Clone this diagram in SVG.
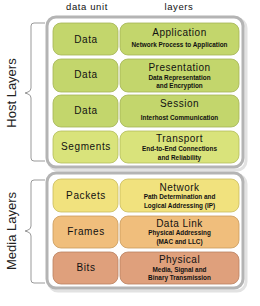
<svg xmlns="http://www.w3.org/2000/svg" width="260" height="306" viewBox="0 0 260 306">
<style>
text{font-family:"Liberation Sans",Arial,sans-serif;text-anchor:middle;fill:#111}
.hdr{font-size:9.5px;letter-spacing:0.6px}
.side{font-size:13px;fill:#222}
.unit{font-size:10px;letter-spacing:0.6px}
.ttl{font-size:10px;letter-spacing:0.5px}
.sub{font-size:6.4px;font-weight:bold}
.frame{fill:#fff;stroke:#b4b4b4;stroke-width:3}
.shadow{fill:none;stroke:#e2e2e2;stroke-width:3}
.brace{fill:none;stroke:#999;stroke-width:1}
.cell{stroke-width:0.8}
.g1{fill:#c3d66c;stroke:#a3b455}
.g2{fill:#d9e37b;stroke:#b3bc5c}
.y1{fill:#f1e27e;stroke:#c9bb5e}
.o1{fill:#f0be7c;stroke:#c99a5c}
.r1{fill:#dfa07c;stroke:#b98060}
</style>
<text class="hdr" x="87" y="10">data unit</text>
<text class="hdr" x="179" y="10">layers</text>
<g id="host-layers">
<rect class="shadow" x="49" y="19" width="197" height="151" rx="9"/>
<rect class="frame" x="47" y="17" width="196" height="150" rx="9"/>
<path class="brace" d="M45,23 H34 Q31,23 31,26 V88 Q31,91 28,92 L25,93 L28,94 Q31,95 31,98 V158 Q31,161 34,161 H45"/>
<text class="side" transform="translate(16,93) rotate(-90)">Host Layers</text>
</g>
<g id="media-layers">
<rect class="shadow" x="49" y="175" width="197" height="116" rx="9"/>
<rect class="frame" x="47" y="173" width="196" height="115" rx="9"/>
<path class="brace" d="M45,180 H34 Q31,180 31,183 V226 Q31,229 28,230 L25,231 L28,232 Q31,233 31,236 V280 Q31,283 34,283 H45"/>
<text class="side" transform="translate(16,231) rotate(-90)">Media Layers</text>
</g>
<g id="application">
<rect class="cell g1" x="53" y="23" width="65" height="32" rx="8"/>
<rect class="cell g1" x="120" y="23" width="119" height="32" rx="8"/>
<text class="unit" x="86" y="43">Data</text>
<text class="ttl" x="179.5" y="36">Application</text>
<text class="sub" x="179.5" y="47">Network Process to Application</text>
</g>
<g id="presentation">
<rect class="cell g1" x="53" y="59" width="65" height="33" rx="8"/>
<rect class="cell g1" x="120" y="59" width="119" height="33" rx="8"/>
<text class="unit" x="86" y="78">Data</text>
<text class="ttl" x="179.5" y="71">Presentation</text>
<text class="sub" x="179.5" y="79.5">Data Representation</text>
<text class="sub" x="179.5" y="87.5">and Encryption</text>
</g>
<g id="session">
<rect class="cell g1" x="53" y="95" width="65" height="32" rx="8"/>
<rect class="cell g1" x="120" y="95" width="119" height="32" rx="8"/>
<text class="unit" x="86" y="114">Data</text>
<text class="ttl" x="179.5" y="107">Session</text>
<text class="sub" x="179.5" y="119.5">Interhost Communication</text>
</g>
<g id="transport">
<rect class="cell g2" x="53" y="131" width="65" height="32" rx="8"/>
<rect class="cell g2" x="120" y="131" width="119" height="32" rx="8"/>
<text class="unit" x="86" y="150">Segments</text>
<text class="ttl" x="179.5" y="142">Transport</text>
<text class="sub" x="179.5" y="151">End-to-End Connections</text>
<text class="sub" x="179.5" y="159.5">and Reliability</text>
</g>
<g id="network">
<rect class="cell y1" x="53" y="179" width="65" height="33" rx="8"/>
<rect class="cell y1" x="120" y="179" width="119" height="33" rx="8"/>
<text class="unit" x="86" y="199">Packets</text>
<text class="ttl" x="179.5" y="191">Network</text>
<text class="sub" x="179.5" y="199">Path Determination and</text>
<text class="sub" x="179.5" y="207.5">Logical Addressing (IP)</text>
</g>
<g id="data-link">
<rect class="cell o1" x="53" y="216" width="65" height="32" rx="8"/>
<rect class="cell o1" x="120" y="216" width="119" height="32" rx="8"/>
<text class="unit" x="86" y="235">Frames</text>
<text class="ttl" x="179.5" y="227">Data Link</text>
<text class="sub" x="179.5" y="235">Physical Addressing</text>
<text class="sub" x="179.5" y="243.5">(MAC and LLC)</text>
</g>
<g id="physical">
<rect class="cell r1" x="53" y="252" width="65" height="32" rx="8"/>
<rect class="cell r1" x="120" y="252" width="119" height="32" rx="8"/>
<text class="unit" x="86" y="271">Bits</text>
<text class="ttl" x="179.5" y="263">Physical</text>
<text class="sub" x="179.5" y="271.5">Media, Signal and</text>
<text class="sub" x="179.5" y="280">Binary Transmission</text>
</g>
<g id="connectors"></g>
</svg>
